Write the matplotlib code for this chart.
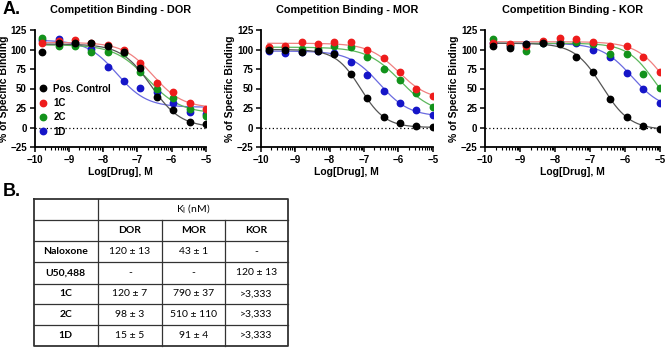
import numpy as np
import matplotlib
matplotlib.use("Agg")
import matplotlib.pyplot as plt
from matplotlib.lines import Line2D

# ---------------- data ----------------
log_drug = [-9.77, -9.29, -8.82, -8.34, -7.86, -7.39, -6.91, -6.43, -5.95, -5.48, -5.0]
series_names = ["Pos. Control", "1C", "2C", "1D"]
series_colors = ["#000000", "#ee1c1c", "#12921b", "#1515c8"]
curve_colors = ["#555555", "#f08080", "#5cb85c", "#6a6ae0"]

panel_titles = ["Competition Binding - DOR", "Competition Binding - MOR", "Competition Binding - KOR"]

# DOR
dor_pos = [96.7, 108, 108, 108, 105, 97, 76, 39, 23, 7, 4]
dor_1c = [108, 111, 112, 108, 106, 99, 83, 57, 46, 32, 24]
dor_2c = [115, 104, 105, 97, 97, 96, 71, 49, 38, 24, 15]
dor_1d = [112, 113, 108, 101, 77, 60, 51, 45, 32, 20, 17]
# MOR
mor_pos = [99, 99, 97, 98, 94, 68, 38, 13, 5.5, 2, 1]
mor_1c = [103.6, 104, 109, 107, 109, 109, 100, 89, 71.5, 50, 41]
mor_2c = [102, 102, 101, 101, 104, 103, 90, 75, 61, 44.5, 26]
mor_1d = [98, 95, 97, 98, 96, 84, 67, 47, 32, 22, 16]
# KOR
kor_pos = [104.5, 101.5, 107, 108, 107, 91, 71, 36, 14, 1.7, -2]
kor_1c = [108, 107, 105, 111, 115, 114, 110, 105, 105, 91, 71.5]
kor_2c = [113, 106, 98.5, 108, 108, 109, 107, 94, 94, 69, 51]
kor_1d = [108, 104, 107, 108, 109, 108, 99, 90, 70, 49, 31]

# fitted curve parameters per series: (top, bottom, logIC50, hill)
dor_fit = [(107, 0, -6.6, 1.0), (109, 25, -6.55, 1.0), (106, 18, -6.7, 0.9), (112, 26, -7.6, 1.0)]
mor_fit = [(100, 0, -7.1, 1.2), (108, 35, -6.0, 1.0), (103, 17, -5.95, 0.9), (98, 14, -6.55, 1.0)]
kor_fit = [(108, -3, -6.65, 1.1), (110, 0, -4.75, 1.0), (108, 10, -5.15, 1.1), (108, 22, -5.8, 1.0)]

panel_data = [[dor_pos, dor_1c, dor_2c, dor_1d],
              [mor_pos, mor_1c, mor_2c, mor_1d],
              [kor_pos, kor_1c, kor_2c, kor_1d]]
panel_fits = [dor_fit, mor_fit, kor_fit]

# table
table_cols = ["DOR", "MOR", "KOR"]
table_rows = ["Naloxone", "U50,488", "1C", "2C", "1D"]
table_vals = [["120 ± 13", "43 ± 1", "-"],
              ["-", "-", "120 ± 13"],
              ["120 ± 7", "790 ± 37", ">3,333"],
              ["98 ± 3", "510 ± 110", ">3,333"],
              ["15 ± 5", "91 ± 4", ">3,333"]]

# ---------------- figure ----------------
plt.rcParams['font.family'] = ['Liberation Sans', 'DejaVu Sans']
W, H = 665, 348
fig = plt.figure(figsize=(W / 100, H / 100), dpi=100)

def fig_rect(x0, x1, ytop, ybot):
    return [x0 / W, 1 - ybot / H, (x1 - x0) / W, (ybot - ytop) / H]

axes_px = [(34.5, 206), (261, 432.7), (485, 660)]

def four_pl(x, top, bottom, logic50, hill):
    return bottom + (top - bottom) / (1 + 10 ** ((x - logic50) * hill))

xs = np.linspace(-9.8, -5.0, 300)
minor = [k + np.log10(m) for k in range(-10, -5) for m in range(2, 10)]
MS = 4.6

for p, (x0, x1) in enumerate(axes_px):
    ax = fig.add_axes(fig_rect(x0, x1, 30, 147))
    ax.set_xlim(-10, -5)
    ax.set_ylim(-25, 125)
    ax.axhline(0, color='black', lw=0.9, ls=(0, (1, 2)), zorder=1)
    for i in reversed(range(4)):
        top, bottom, ic, hill = panel_fits[p][i]
        ax.plot(xs, four_pl(xs, top, bottom, ic, hill), color=curve_colors[i], lw=0.9, zorder=2)
        ax.plot(log_drug, panel_data[p][i], 'o', color=series_colors[i], ms=MS,
                mec=series_colors[i], zorder=3 + (3 - i))
    for s in ['top', 'right']:
        ax.spines[s].set_visible(False)
    for s in ['left', 'bottom']:
        ax.spines[s].set_linewidth(1.3)
    ax.set_xticks([-10, -9, -8, -7, -6, -5])
    ax.set_xticks(minor, minor=True)
    ax.set_yticks([-25, 0, 25, 50, 75, 100, 125])
    ax.tick_params(axis='both', which='major', length=3.5, width=1.1, labelsize=7, pad=2)
    ax.tick_params(axis='x', which='minor', length=2, width=0.8)
    for lab in ax.get_xticklabels() + ax.get_yticklabels():
        lab.set_fontweight('bold')
    ax.set_title(panel_titles[p], fontsize=7.8, fontweight='bold', pad=12)
    ax.set_xlabel("Log[Drug], M", fontsize=7.5, fontweight='bold', labelpad=2)
    ax.set_ylabel("% of Specific Binding", fontsize=7.5, fontweight='bold', labelpad=1)
    if p == 0:
        handles = [Line2D([], [], marker='o', ls='none', color=series_colors[i], ms=MS)
                   for i in range(4)]
        ax.legend(handles, series_names, loc='upper left', bbox_to_anchor=(-0.02, 0.6),
                  frameon=False, handlelength=1, handletextpad=0.6, labelspacing=0.45,
                  borderpad=0.2, prop={'weight': 'bold', 'size': 7})

fig.text(3 / W, 1 - 10 / H, "A.", fontsize=13, fontweight='bold', va='center', ha='left')
fig.text(3 / W, 1 - 191 / H, "B.", fontsize=13, fontweight='bold', va='center', ha='left')

# ---------------- table ----------------
tax = fig.add_axes([0, 0, 1, 1])
tax.set_xlim(0, W)
tax.set_ylim(H, 0)
tax.axis('off')
col_x = [33.5, 98, 162, 225, 288]
row_y = [198.5, 220, 241, 262, 283.5, 304, 325, 346]
lc = '#333333'
tax.plot([col_x[0], col_x[-1], col_x[-1], col_x[0], col_x[0]],
         [row_y[0], row_y[0], row_y[-1], row_y[-1], row_y[0]], color=lc, lw=1.3)
for y in row_y[1:-1]:
    tax.plot([col_x[0], col_x[-1]], [y, y], color=lc, lw=0.9)
tax.plot([col_x[1], col_x[1]], [row_y[0], row_y[-1]], color=lc, lw=0.9)
for x in col_x[2:4]:
    tax.plot([x, x], [row_y[1], row_y[-1]], color=lc, lw=0.9)

tfont = ['Lato', 'DejaVu Sans']
tax.text((col_x[1] + col_x[-1]) / 2, (row_y[0] + row_y[1]) / 2, r"K$_\mathregular{I}$ (nM)",
         ha='center', va='center', fontsize=7.5, family=tfont)
for j, c in enumerate(table_cols):
    tax.text((col_x[j + 1] + col_x[j + 2]) / 2, (row_y[1] + row_y[2]) / 2, c,
             ha='center', va='center', fontsize=7.5, fontweight='bold', family=tfont)
for i, r in enumerate(table_rows):
    yc = (row_y[i + 2] + row_y[i + 3]) / 2
    tax.text((col_x[0] + col_x[1]) / 2, yc, r, ha='center', va='center',
             fontsize=7.5, fontweight='bold', family=tfont)
    for j, v in enumerate(table_vals[i]):
        tax.text((col_x[j + 1] + col_x[j + 2]) / 2, yc, v, ha='center', va='center',
                 fontsize=7.5, family=tfont)

fig.savefig("out.png", dpi=100)
